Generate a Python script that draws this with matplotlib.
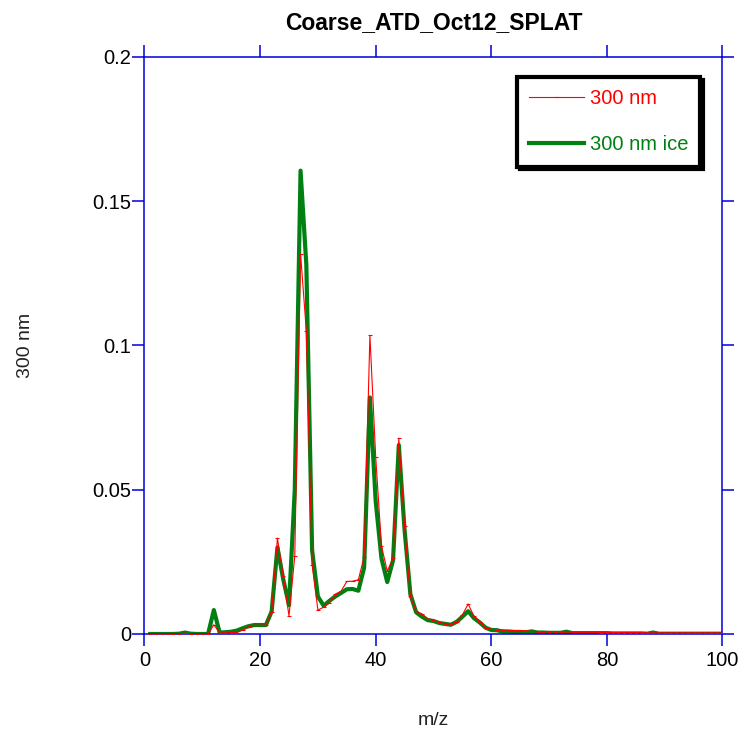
import numpy as np
import matplotlib
matplotlib.use('Agg')
import matplotlib.pyplot as plt

plt.rcParams['font.family'] = ['Liberation Sans', 'DejaVu Sans']

# m/z 1..100
mz = np.arange(1, 101)

# 300 nm (red)
red = [0, 0, 0, 0, 0, 0, 0.0003, 0, 0, 0,
       0, 0.0032, 0.0004, 0.0004, 0.0005, 0.0005, 0.0014, 0.0025, 0.0030, 0.0030,
       0.0031, 0.0075, 0.0332, 0.0200, 0.0063, 0.0270, 0.1318, 0.1050, 0.0240, 0.0083,
       0.0093, 0.0108, 0.0138, 0.0148, 0.0182, 0.0183, 0.0188, 0.0268, 0.1035, 0.0614,
       0.0305, 0.0218, 0.0262, 0.0678, 0.0375, 0.0130, 0.0078, 0.0070, 0.0053, 0.0048,
       0.0040, 0.0036, 0.0034, 0.0042, 0.0066, 0.0104, 0.0062, 0.0042, 0.0022, 0.0016,
       0.0015, 0.0014, 0.0013, 0.0012, 0.0012, 0.0011, 0.0009, 0.0008, 0.0008, 0.0008,
       0.0008, 0.0008, 0.0008, 0.0006, 0.0006, 0.0006, 0.0006, 0.0006, 0.0005, 0.0005,
       0.0005, 0.0005, 0.0005, 0.0005, 0.0005, 0.0005, 0.0004, 0.0004, 0.0004, 0.0004,
       0.0004, 0.0004, 0.0004, 0.0004, 0.0004, 0.0004, 0.0004, 0.0004, 0.0004, 0.0004]

# 300 nm ice (green)
green = [0, 0, 0, 0, 0, 0.0001, 0.0005, 0.0001, 0, 0,
         0, 0.0083, 0.0005, 0.0006, 0.0008, 0.0012, 0.0020, 0.0027, 0.0031, 0.0031,
         0.0031, 0.0078, 0.0300, 0.0190, 0.0100, 0.0500, 0.1606, 0.1280, 0.0290, 0.0130,
         0.0098, 0.0115, 0.0130, 0.0142, 0.0155, 0.0156, 0.0150, 0.0230, 0.0820, 0.0460,
         0.0262, 0.0180, 0.0255, 0.0655, 0.0360, 0.0138, 0.0075, 0.0060, 0.0048, 0.0045,
         0.0038, 0.0035, 0.0032, 0.0042, 0.0060, 0.0079, 0.0055, 0.0040, 0.0022, 0.0014,
         0.0013, 0.0008, 0.0008, 0.0007, 0.0007, 0.0006, 0.0009, 0.0005, 0.0005, 0.0004,
         0.0004, 0.0004, 0.0008, 0.0003, 0.0003, 0.0003, 0.0003, 0.0003, 0.0003, 0.0003,
         0.0002, 0.0002, 0.0002, 0.0002, 0.0002, 0.0002, 0.0001, 0.0005, 0.0001, 0.0001,
         0.0001, 0.0001, 0.0001, 0.0001, 0.0001, 0.0001, 0.0001, 0.0001, 0.0001, 0.0001]

xticks = [0, 20, 40, 60, 80, 100]
yticks = [0, 0.05, 0.1, 0.15, 0.2]
ytick_labels = ['0', '0.05', '0.1', '0.15', '0.2']

axcol = '#0000dd'
grn = '#008012'

fig = plt.figure(figsize=(7.41, 7.36), dpi=100)
ax = fig.add_axes([0.195, 0.1386, 0.78, 0.784])

ax.plot(mz, red, color='red', lw=0.8, marker='_', ms=3, mew=0.8, label='300 nm', zorder=3)
ax.plot(mz, green, color=grn, lw=3.0, label='300 nm ice', zorder=2)

ax.set_xlim(0, 100)
ax.set_ylim(0, 0.2)
ax.set_xticks(xticks)
ax.set_yticks(yticks)
ax.set_yticklabels(ytick_labels)

for s in ax.spines.values():
    s.set_color(axcol)
    s.set_linewidth(1.1)
ax.tick_params(direction='out', length=8.5, width=1.1, color=axcol,
               labelsize=14.5, top=True, right=True, labelcolor='black')
ax.tick_params(axis='x', pad=4)
ax.tick_params(axis='y', pad=1)

ax.set_title('Coarse_ATD_Oct12_SPLAT', fontsize=16.5, fontweight='bold', pad=20)
ax.set_xlabel('m/z', fontsize=14, color='#222222', labelpad=30)
ax.set_ylabel('300 nm', fontsize=14, color='#222222', labelpad=42)

leg = ax.legend(loc='upper left', bbox_to_anchor=(0.645, 0.965), borderaxespad=0,
                fontsize=14.5, labelcolor='linecolor', handlelength=2.7,
                handletextpad=0.3, labelspacing=1.35, borderpad=0.6, fancybox=False,
                shadow={'color': 'black', 'alpha': 1.0})
leg.get_frame().set_edgecolor('black')
leg.get_frame().set_linewidth(3)
leg.get_frame().set_alpha(1)

fig.savefig('out.png', dpi=100)
